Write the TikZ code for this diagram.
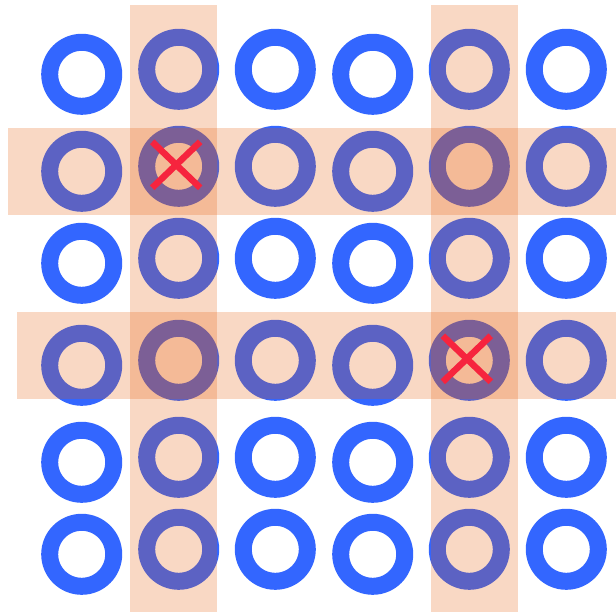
\documentclass[tikz,border=0pt]{standalone}
\usetikzlibrary{positioning}
\definecolor{ringblue}{RGB}{51,102,255}
\definecolor{bandorange}{RGB}{229,89,4}
\definecolor{crossred}{RGB}{246,36,62}
\tikzset{
    % hollow blue ring, one per grid cell
    ring/.style={circle, draw=ringblue, line width=17pt, minimum size=64pt,
                 inner sep=0pt, outer sep=0pt},
    % translucent highlight band over a row or a column
    band/.style={fill=bandorange, fill opacity=0.235, draw=none},
    % red cross marking a selected cell
    cross/.style={draw=crossred, line width=6.5pt},
}

\begin{document}
\begin{tikzpicture}[x=1pt, y=-1pt]
    \useasboundingbox (0,0) rectangle (616,612);

    % ---- 6 x 6 grid of rings (columns 1 and 4 sit a little lower) ----
    \foreach \c/\x/\dy in {1/81.7/5, 2/178.7/0, 3/275.3/0, 4/372.7/5, 5/469.3/0, 6/566.3/0}{
        \foreach \r/\y in {1/69.3, 2/166.3, 3/258.3, 4/360.3, 5/457.3, 6/549.3}{
            \node[ring] (r\c\r) at (\x, \y+\dy) {};
        }
    }

    % ---- highlighted columns ----
    \fill[band] (130,5) rectangle (217,612);
    \fill[band] (431,5) rectangle (518,612);

    % ---- highlighted rows ----
    \fill[band] (8,128) rectangle (616,214.7);
    \fill[band] (17,312) rectangle (616,399);

    % ---- crosses on the two chosen cells ----
    \foreach \n in {r22, r54}{
        \coordinate (m) at ([shift={(-2.5,-1.5)}]\n.center);
        \draw[cross] ([shift={(-24,-23)}]m) -- ([shift={(24,23)}]m);
        \draw[cross] ([shift={(-24,23)}]m) -- ([shift={(24,-23)}]m);
    }

\end{tikzpicture}
\end{document}
